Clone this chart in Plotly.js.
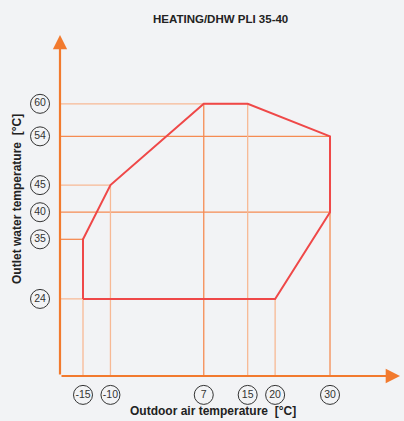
<!DOCTYPE html>
<html>
<head>
<meta charset="utf-8">
<script src="https://cdn.plot.ly/plotly-3.0.1.min.js"></script>
<style>html,body{margin:0;padding:0;background:#f2f3f5;}#chart{width:404px;height:421px;}</style>
</head>
<body>
<div id="chart"></div>
<script>
// Envelope vertices (outdoor air °C, outlet water °C)
const envelopeX = [-15, -15, -10, 7, 15, 30, 30, 20, -15];
const envelopeY = [24, 35, 45, 60, 60, 54, 40, 24, 24];
// Tick labels
const xTicks = [-15, -10, 7, 15, 20, 30];
const yTicks = [24, 35, 40, 45, 54, 60];
const titleText = 'HEATING/DHW PLI 35-40';
const xTitle = 'Outdoor air temperature  [°C]';
const yTitle = 'Outlet water temperature  [°C]';

const X_MIN = -19.19, X_MAX = 42.75, Y_MIN = 9.78, Y_MAX = 72.7;
const LIGHT = '#f7b994', STRONG = '#f58b52';
const strongY = new Set([35, 40, 54]);
const strongX = new Set([7, 30]);
const FONT = 'Liberation Sans Narrow, Liberation Sans, Arial, sans-serif';

const traces = [];
// horizontal guide lines from y axis to furthest vertex at that level
yTicks.forEach(v => {
  const xs = envelopeX.filter((x, i) => envelopeY[i] === v);
  traces.push({x: [X_MIN, Math.max(...xs)], y: [v, v], mode: 'lines', hoverinfo: 'skip',
    line: {color: strongY.has(v) ? STRONG : LIGHT, width: 1.3}});
});
// vertical guide lines from x axis up to highest vertex at that position
xTicks.forEach(v => {
  const ys = envelopeY.filter((y, i) => envelopeX[i] === v);
  traces.push({x: [v, v], y: [Y_MIN, Math.max(...ys)], mode: 'lines', hoverinfo: 'skip',
    line: {color: strongX.has(v) ? STRONG : LIGHT, width: 1.3}});
});
// envelope
traces.push({x: envelopeX, y: envelopeY, mode: 'lines', hoverinfo: 'skip',
  line: {color: '#ef4848', width: 2}});
// circled tick labels (own label strips sharing the main scales)
const circ = {symbol: 'circle-open', size: 19, color: '#333', line: {width: 1, color: '#333'}};
const tickFont = {family: FONT, size: 10.5, color: '#333', stretch: 'condensed'};
traces.push({x: xTicks, y: xTicks.map(() => 0.58), xaxis: 'x', yaxis: 'y2', mode: 'markers+text',
  text: xTicks.map(String), textposition: 'middle center', marker: circ, hoverinfo: 'skip', textfont: tickFont});
traces.push({x: yTicks.map(() => 0.667), y: yTicks, xaxis: 'x2', yaxis: 'y', mode: 'markers+text',
  text: yTicks.map(String), textposition: 'middle center', marker: circ, hoverinfo: 'skip', textfont: tickFont});

const AX = '#f27a2e';
const hidden = {showgrid: false, zeroline: false, showticklabels: false, ticks: '', showline: false, fixedrange: true};
const layout = {
  width: 404, height: 421,
  paper_bgcolor: '#f2f3f5', plot_bgcolor: 'rgba(0,0,0,0)',
  margin: {l: 0, r: 0, t: 0, b: 0},
  showlegend: false,
  xaxis: Object.assign({range: [X_MIN, X_MAX], domain: [60 / 404, 400 / 404], anchor: 'y'}, hidden),
  yaxis: Object.assign({range: [Y_MIN, Y_MAX], domain: [45 / 421, 386 / 421], anchor: 'x'}, hidden),
  xaxis2: Object.assign({range: [0, 1], domain: [0, 60 / 404], anchor: 'y'}, hidden),
  yaxis2: Object.assign({range: [0, 1], domain: [0, 45 / 421], anchor: 'x'}, hidden),
  annotations: [
    {x: X_MAX, y: Y_MIN, ax: X_MIN, ay: Y_MIN, xref: 'x', yref: 'y', axref: 'x', ayref: 'y',
      text: '', showarrow: true, arrowhead: 2, arrowsize: 1.3, arrowwidth: 2.2, arrowcolor: AX},
    {x: X_MIN, y: Y_MAX, ax: X_MIN, ay: Y_MIN, xref: 'x', yref: 'y', axref: 'x', ayref: 'y',
      text: '', showarrow: true, arrowhead: 2, arrowsize: 1.3, arrowwidth: 2.2, arrowcolor: AX},
    {text: '<b>' + titleText + '</b>', xref: 'paper', yref: 'paper', x: 220 / 404, y: 1 - 19 / 421,
      xanchor: 'center', yanchor: 'middle', showarrow: false,
      font: {family: FONT, size: 11.5, color: '#222', stretch: 'condensed'}},
    {text: '<b>' + xTitle + '</b>', xref: 'paper', yref: 'paper', x: 213 / 404, y: 1 - 411 / 421,
      xanchor: 'center', yanchor: 'middle', showarrow: false,
      font: {family: FONT, size: 12, color: '#222', stretch: 'condensed'}},
    {text: '<b>' + yTitle + '</b>', xref: 'paper', yref: 'paper', x: 17 / 404, y: 1 - 199 / 421,
      xanchor: 'center', yanchor: 'middle', showarrow: false, textangle: -90,
      font: {family: FONT, size: 12, color: '#222'}}
  ]
};
Plotly.newPlot('chart', traces, layout, {staticPlot: true, displayModeBar: false});
</script>
</body>
</html>
